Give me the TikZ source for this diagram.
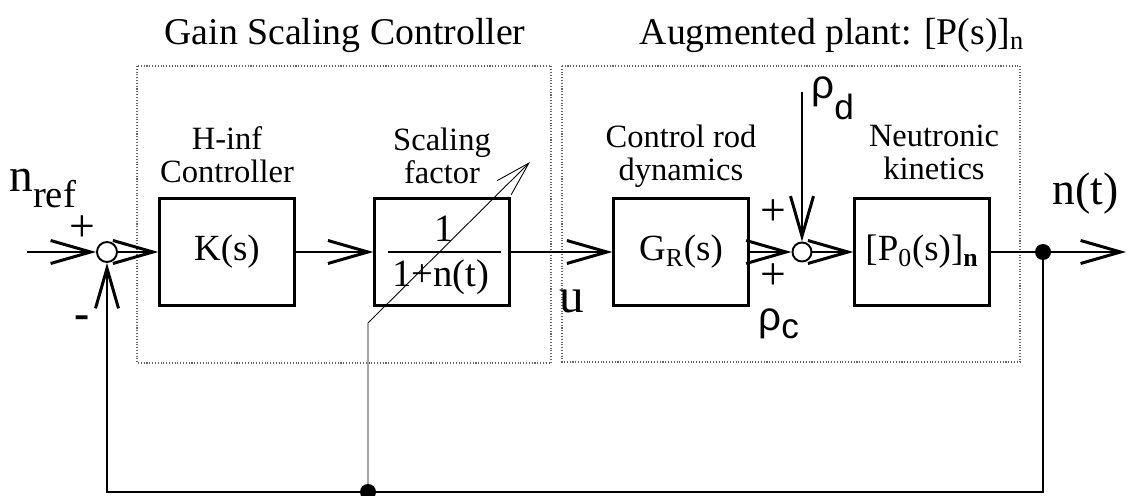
\documentclass[tikz,border=0pt]{standalone}
\usepackage{fontspec}
\setmainfont{Liberation Serif}
\newfontfamily\sansgreek{Liberation Sans}
\usetikzlibrary{arrows.meta, positioning}
\newcommand{\fsz}[2]{\fontsize{#1}{#2}\selectfont}

\begin{document}
\begin{tikzpicture}[
    x=0.2mm, y=-0.2mm,
    block/.style={draw, line width=1.3pt, minimum width=27mm, minimum height=21.4mm, inner sep=0pt, font=\fsz{21}{24}},
    sumnode/.style={draw, circle, line width=1.1pt, minimum size=4mm, inner sep=0pt, fill=white},
    tapdot/.style={fill, circle, minimum size=3.2mm, inner sep=0pt},
    caption/.style={align=center, font=\fsz{18.5}{19}, inner sep=1pt},
    heading/.style={font=\fsz{21.5}{24}},
    sign/.style={font=\fsz{26}{26}, inner sep=0pt},
    frame/.style={draw=black!60, densely dotted, line width=0.6pt},
    wire/.style={line width=1.3pt},
    sig/.style={wire, -{Straight Barb[length=8mm, width=4.6mm, line width=1.7pt]}},
    thinsig/.style={line width=0.5pt, -{Straight Barb[length=7mm, width=4mm]}}
]
    \useasboundingbox (0,0) rectangle (1128,496);

    % Frames and titles
    \draw[frame] (137,66) rectangle (551,363);
    \draw[frame] (562,66) rectangle (1020,362);
    \node[heading] (gsctitle) at (345,35) {Gain Scaling Controller};
    \node[heading] (augtitle) at (832,35) {Augmented plant: [P(s)]\textsubscript{n}};

    % Blocks
    \node[sumnode] (sum1) at (107,252) {};
    \node[block] (K) at (227,252) {K(s)};
    \node[block] (scale) at (442,252) {};
    \node[block] (GR) at (681,252) {G\textsubscript{R}(s)};
    \node[sumnode, minimum size=3.8mm] (sum2) at (802,252) {};
    \node[block] (P0) at (922,252) {[P\textsubscript{0}(s)]\textsubscript{\textbf{n}}};
    \node[tapdot] (tap) at (1043,252) {};
    \node[tapdot] (fbdot) at (368,492) {};
    \coordinate (nin) at (27,252);
    \coordinate (nout) at (1126,252);
    \coordinate (rhotop) at (802,92);
    \coordinate (kink) at (368,323);
    \coordinate (slant) at (530,162);

    % Fraction
    \draw[line width=1.2pt] ([xshift=3mm]scale.west) -- ([xshift=-2mm]scale.east);
    \node[font=\fsz{22}{22}] (num) at (444,229) {1};
    \node[font=\fsz{22}{22}] (den) at (441,277) {1+n(t)};

    % Captions
    \node[caption, above=2.5mm of K] (Kcap) {H-inf\\Controller};
    \node[caption, above=2.3mm of scale] (scalecap) {Scaling\\factor};
    \node[caption, above=1.5mm of GR] (GRcap) {Control rod\\dynamics};
    \node[caption, above=3mm of P0, xshift=2.4mm] (P0cap) {Neutronic\\kinetics};

    % Signals
    \draw[sig] (nin) -- (sum1);
    \draw[sig] (sum1) -- (K);
    \draw[sig] (K) -- (scale);
    \draw[sig] (scale) -- (GR);
    \draw[sig] (GR) -- (sum2);
    \draw[sig] (rhotop) -- (sum2);
    \draw[sig] (sum2) -- (P0);
    \draw[wire] (P0) -- (tap);
    \draw[sig] (tap) -- (nout);
    \draw[sig] (tap) |- (fbdot.center) -| (sum1);
    \draw[thinsig] (fbdot.center) -- (kink) -- (slant);

    % Labels
    \node[anchor=base west, inner sep=0pt, font=\fsz{27}{27}] (nref) at (9,192) {n\raisebox{-3.2mm}{\fsz{22}{22}ref}};
    \node[sign] (plus1) at (82,229) {+};
    \node[sign, font=\bfseries\fsz{26}{26}] (minus1) at (82,322) {-};
    \node[sign] (plus2) at (773,213) {+};
    \node[sign] (plus3) at (773,277) {+};
    \node[anchor=base, inner sep=0pt, font=\fsz{28}{28}] (ulbl) at (572,313) {u};
    \node[anchor=base west, inner sep=0pt, font=\sansgreek\fsz{23}{23}] (rhod) at (811,99) {ρ\raisebox{-4.2mm}{\fsz{20}{20}d}};
    \node[anchor=base west, inner sep=0pt, font=\sansgreek\fsz{23}{23}] (rhoc) at (758,331) {ρ\raisebox{-1.6mm}{\fsz{20}{20}c}};
    \node[anchor=base west, inner sep=0pt, font=\fsz{26}{26}] (nt) at (1052,205) {n(t)};
\end{tikzpicture}
\end{document}
